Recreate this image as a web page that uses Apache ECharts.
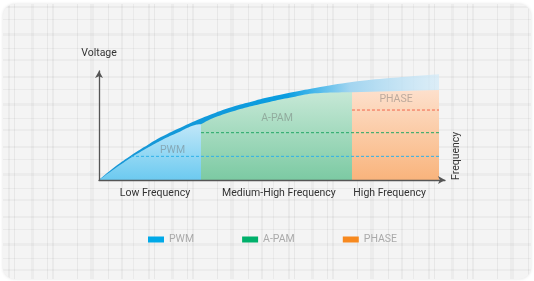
<!DOCTYPE html>
<html>
<head>
<meta charset="utf-8">
<script src="https://cdn.jsdelivr.net/npm/echarts@6/dist/echarts.min.js"></script>
<style>
html,body{margin:0;padding:0;background:#fff;}
#chart{width:534px;height:281px;}
</style>
</head>
<body>
<div id="chart"></div>
<script>
// ---- data ----
const freqX        = [0, 4.62, 9.54, 14.16, 18.21, 22.83, 27.75, 33.53, 39.31, 45.09, 50.87, 56.65, 62.43, 73.12, 84.1, 98.27];
const curveVoltage = [0, 10.55, 21.1, 29.8, 36.8, 43.6, 50.5, 57.5, 63.6, 68.5, 72.8, 76.4, 79.5, 83, 85.3, 87];
const bandThickness= [0, 1.5, 2.1, 2.6, 3.0, 3.4, 3.7, 4.0, 4.2, 4.3, 4.4, 4.6, 5.0, 6.9, 8.3, 10.1];
const regionNames  = ['PWM', 'A-PAM', 'PHASE'];
const regionEdges  = [0, 29.48, 73.12, 98.27];
const boundaryTop  = 51.1;
const apamEndTop   = 80.5;
const phaseTop     = [80.5, 82.6];
const levelValues  = [21.7, 43.4, 64.2];
const levelStart   = [9.25, 29.48, 73.12];
const labelX       = [21.24, 51.45, 85.84];
const labelY       = [26.9, 56.6, 74.0];
const xLabelPos    = [16.18, 52.0, 84.0];
const xLabelText   = ['Low Frequency', 'Medium-High Frequency', 'High Frequency'];
const legendColors = ['#00a9e8', '#00b06b', '#f7891f'];

// ---- build ----
const pairs = (xs, ys) => xs.map((x, i) => [x, ys[i]]);
const curve = pairs(freqX, curveVoltage);
const bandUpper = pairs(freqX, curveVoltage.map((v, i) => v + bandThickness[i]));
const pwmData = curve.filter(p => p[0] < regionEdges[1]).concat([[regionEdges[1], boundaryTop]]);
const apamData = [[regionEdges[1], boundaryTop]]
  .concat(curve.filter(p => p[0] > regionEdges[1] && p[0] < regionEdges[2]))
  .concat([[regionEdges[2], apamEndTop]]);
const phaseData = [[regionEdges[2], phaseTop[0]], [regionEdges[3], phaseTop[1]]];

const G = echarts.graphic.LinearGradient;
const vgrad = (a, b) => new G(0, 0, 0, 1, [{offset: 0, color: a}, {offset: 1, color: b}]);

// background plaid texture
const pc = document.createElement('canvas');
pc.width = 140; pc.height = 70;
const cx = pc.getContext('2d');
cx.fillStyle = '#f4f4f4'; cx.fillRect(0, 0, 140, 70);
const vlines = [[8,2,0.04],[14,1,0.05],[31,3,0.03],[47,1,0.05],[52,2,0.04],[77,1,0.05],[90,4,0.03],[108,1,0.05],[121,2,0.04],[133,1,0.04]];
const hlines = [[6,2,0.035],[19,1,0.04],[33,3,0.03],[48,1,0.04],[59,2,0.03]];
vlines.forEach(v => { cx.fillStyle = 'rgba(0,0,0,' + v[2] + ')'; cx.fillRect(v[0], 0, v[1], 70); });
hlines.forEach(h => { cx.fillStyle = 'rgba(0,0,0,' + h[2] + ')'; cx.fillRect(0, h[0], 140, h[1]); });

const FONT = 'Roboto';
const FS = 10.5;
const SM = 0.4;
const series = [
  {
    name: 'band', type: 'line', data: bandUpper, smooth: SM, symbol: 'none',
    lineStyle: {width: 0, opacity: 0}, z: 1, silent: true,
    areaStyle: {opacity: 1, color: new G(0, 0, 1, 0, [
      {offset: 0, color: '#1a96d5'},
      {offset: 0.55, color: '#0a9de0'},
      {offset: 0.62, color: '#3cb3e9'},
      {offset: 0.74, color: '#a3d5f0'},
      {offset: 1, color: 'rgba(212,235,248,0.75)'}
    ])}
  },
  {
    name: 'PWM', type: 'line', data: pwmData, smooth: SM, symbol: 'none',
    lineStyle: {width: 0}, areaStyle: {color: vgrad('#c0e7f8', '#6ccaf0'), opacity: 1}, z: 2
  },
  {
    name: 'A-PAM', type: 'line', data: apamData, smooth: SM, symbol: 'none',
    lineStyle: {width: 0}, areaStyle: {color: vgrad('#c6e8d6', '#7ccaa3'), opacity: 1}, z: 2
  },
  {
    name: 'PHASE', type: 'line', data: phaseData, symbol: 'none',
    lineStyle: {width: 0}, areaStyle: {color: vgrad('#fde0cc', '#f9b47c'), opacity: 1}, z: 2
  }
];
const dashColors = ['#2db0ea', '#22a866', '#f2664a'];
levelValues.forEach((v, i) => {
  series.push({
    name: 'level' + i, type: 'line', symbol: 'none', z: 4, silent: true,
    data: [[levelStart[i], v], [regionEdges[3], v]],
    lineStyle: {color: dashColors[i], width: 1, type: [3, 2]}
  });
});
series.push({
  name: 'labels', type: 'scatter', symbolSize: 0, z: 5, silent: true,
  data: regionNames.map((n, i) => ({value: [labelX[i], labelY[i]], name: n})),
  label: {show: true, position: 'inside', formatter: p => p.name,
          fontFamily: FONT, fontSize: FS, color: 'rgba(105,105,105,0.55)'}
});

const chart = echarts.init(document.getElementById('chart'), null, {renderer: 'canvas'});
chart.setOption({
  animation: false,
  backgroundColor: '#ffffff',
  graphic: [{
    type: 'rect', z: -10, silent: true,
    shape: {x: 3, y: 4, width: 528, height: 275, r: 12},
    style: {fill: {image: pc, repeat: 'repeat'}, shadowBlur: 3, shadowColor: 'rgba(0,0,0,0.12)'}
  }],
  grid: {left: 99, right: 89, top: 71, bottom: 101},
  legend: {
    top: 229, left: 143, itemWidth: 16, itemHeight: 6, itemGap: 48, icon: 'rect',
    textStyle: {color: '#aaaaaa', fontSize: FS, fontFamily: FONT},
    data: regionNames.map((n, i) => ({name: n, itemStyle: {color: legendColors[i]}}))
  },
  xAxis: {
    type: 'value', min: 0, max: 100, z: 10,
    name: 'Frequency', nameLocation: 'end', nameGap: 6, nameRotate: 90,
    nameTextStyle: {color: '#333', fontSize: FS, fontFamily: FONT, align: 'left'},
    axisLine: {show: true, symbol: ['none', 'arrow'], symbolSize: [6, 7], lineStyle: {color: '#555', width: 1.3}},
    axisTick: {show: false},
    splitLine: {show: false},
    axisLabel: {
      customValues: xLabelPos, margin: 8, color: '#333', fontSize: FS, fontFamily: FONT,
      formatter: v => xLabelText[xLabelPos.indexOf(v)]
    }
  },
  yAxis: {
    type: 'value', min: 0, max: 100, z: 10,
    name: 'Voltage', nameLocation: 'end', nameGap: 12,
    nameTextStyle: {color: '#333', fontSize: FS, fontFamily: FONT},
    axisLine: {show: true, symbol: ['none', 'arrow'], symbolSize: [6, 7], lineStyle: {color: '#555', width: 1.3}},
    axisTick: {show: false}, axisLabel: {show: false}, splitLine: {show: false}
  },
  series: series
});
</script>
</body>
</html>
